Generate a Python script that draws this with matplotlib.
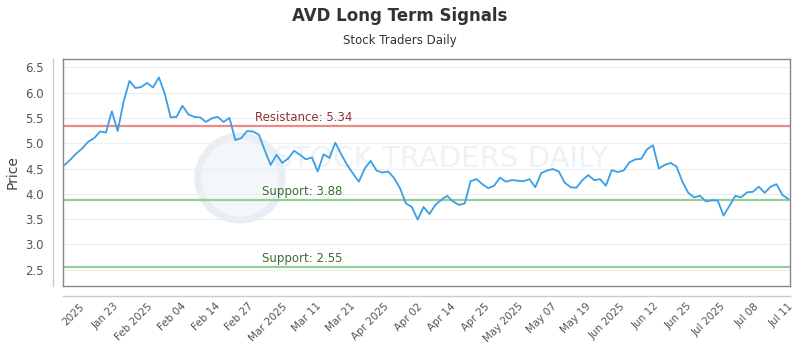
import numpy as np
import matplotlib.pyplot as plt
from matplotlib.patches import Circle

# closing prices (one per trading day)
prices = [4.57, 4.68, 4.80, 4.90, 5.03, 5.10, 5.23, 5.21, 5.63, 5.24,
          5.82, 6.23, 6.09, 6.11, 6.19, 6.10, 6.30, 5.98, 5.51, 5.52,
          5.74, 5.57, 5.52, 5.51, 5.42, 5.49, 5.52, 5.42, 5.50, 5.06,
          5.10, 5.24, 5.23, 5.17, 4.86, 4.57, 4.77, 4.61, 4.70, 4.85,
          4.77, 4.68, 4.72, 4.44, 4.78, 4.71, 5.01, 4.78, 4.57, 4.40,
          4.24, 4.50, 4.65, 4.46, 4.42, 4.44, 4.31, 4.11, 3.81, 3.74,
          3.49, 3.74, 3.60, 3.78, 3.88, 3.96, 3.85, 3.78, 3.81, 4.25,
          4.29, 4.19, 4.11, 4.16, 4.32, 4.24, 4.27, 4.26, 4.25, 4.29,
          4.13, 4.41, 4.46, 4.49, 4.44, 4.22, 4.13, 4.12, 4.27, 4.37,
          4.27, 4.29, 4.16, 4.47, 4.43, 4.46, 4.62, 4.68, 4.69, 4.88,
          4.96, 4.50, 4.57, 4.61, 4.54, 4.24, 4.02, 3.93, 3.96, 3.85,
          3.87, 3.87, 3.57, 3.76, 3.96, 3.93, 4.03, 4.04, 4.14, 4.02,
          4.14, 4.19, 3.98, 3.90]
tick_labels = ['2025', 'Jan 23', 'Feb 2025', 'Feb 04', 'Feb 14', 'Feb 27',
               'Mar 2025', 'Mar 11', 'Mar 21', 'Apr 2025', 'Apr 02', 'Apr 14',
               'Apr 25', 'May 2025', 'May 07', 'May 19', 'Jun 2025', 'Jun 12',
               'Jun 25', 'Jul 2025', 'Jul 08', 'Jul 11']
resistance = 5.34
supports = [3.88, 2.55]

x = np.arange(len(prices))
n = len(prices)

fig = plt.figure(figsize=(8, 3.5), dpi=100)
ax = fig.add_axes([0.07875, 0.183, 0.90875, 0.648])

# faint watermark
ax.text(0.52, 0.56, 'STOCK TRADERS DAILY', transform=ax.transAxes, ha='center',
        va='center', fontsize=21, color='#eef1f5', zorder=0)
ax.add_patch(Circle((2.40, 1.72), 0.42, transform=fig.dpi_scale_trans,
                    fc='#f4f7fa', ec='#e8eef4', lw=5, zorder=0))

ax.plot(x, prices, color='#3a9fe6', lw=1.3, zorder=3)
ax.axhline(resistance, color='#ec8a8a', lw=1.6, zorder=2)
for s in supports:
    ax.axhline(s, color='#96cf96', lw=1.6, zorder=2)

ax.text(32.3, resistance + 0.04, 'Resistance: %.2f' % resistance, color='#8c3535',
        fontsize=8.5, va='bottom')
for s in supports:
    ax.text(33.6, s + 0.04, 'Support: %.2f' % s, color='#3d6e31',
            fontsize=8.5, va='bottom')

ax.set_ylim(2.18, 6.66)
ax.set_xlim(-0.3, n - 0.7)
ax.set_yticks(np.arange(2.5, 6.51, 0.5))
ax.set_yticklabels(['%.1f' % v for v in np.arange(2.5, 6.51, 0.5)])
ax.yaxis.grid(True, color='#eeeeee', lw=0.8)
ax.set_axisbelow(True)

ticks = np.linspace(2.5, n - 1, len(tick_labels))
ax.set_xticks(ticks)
ax.set_xticklabels(tick_labels, rotation=45, ha='right', rotation_mode='anchor')
ax.tick_params(axis='both', length=0, colors='#555555')
ax.tick_params(axis='x', pad=11, labelsize=7.5)
ax.tick_params(axis='y', pad=14, labelsize=8.5)

for sp in ax.spines.values():
    sp.set_color('#888888')
    sp.set_linewidth(1)

# detached axis lines outside the frame
fig.add_artist(plt.Line2D([0.066, 0.066], [0.183, 0.831], color='#cccccc', lw=1))
fig.add_artist(plt.Line2D([0.07875, 0.9875], [0.154, 0.154], color='#cccccc', lw=1))

ax.set_ylabel('Price', color='#444444', fontsize=10, labelpad=4)
fig.text(0.5, 0.955, 'AVD Long Term Signals', ha='center', va='center',
         fontsize=12, fontweight='bold', color='#333333')
fig.text(0.5, 0.885, 'Stock Traders Daily', ha='center', va='center',
         fontsize=8.5, color='#333333')

plt.savefig('out.png', dpi=100)
